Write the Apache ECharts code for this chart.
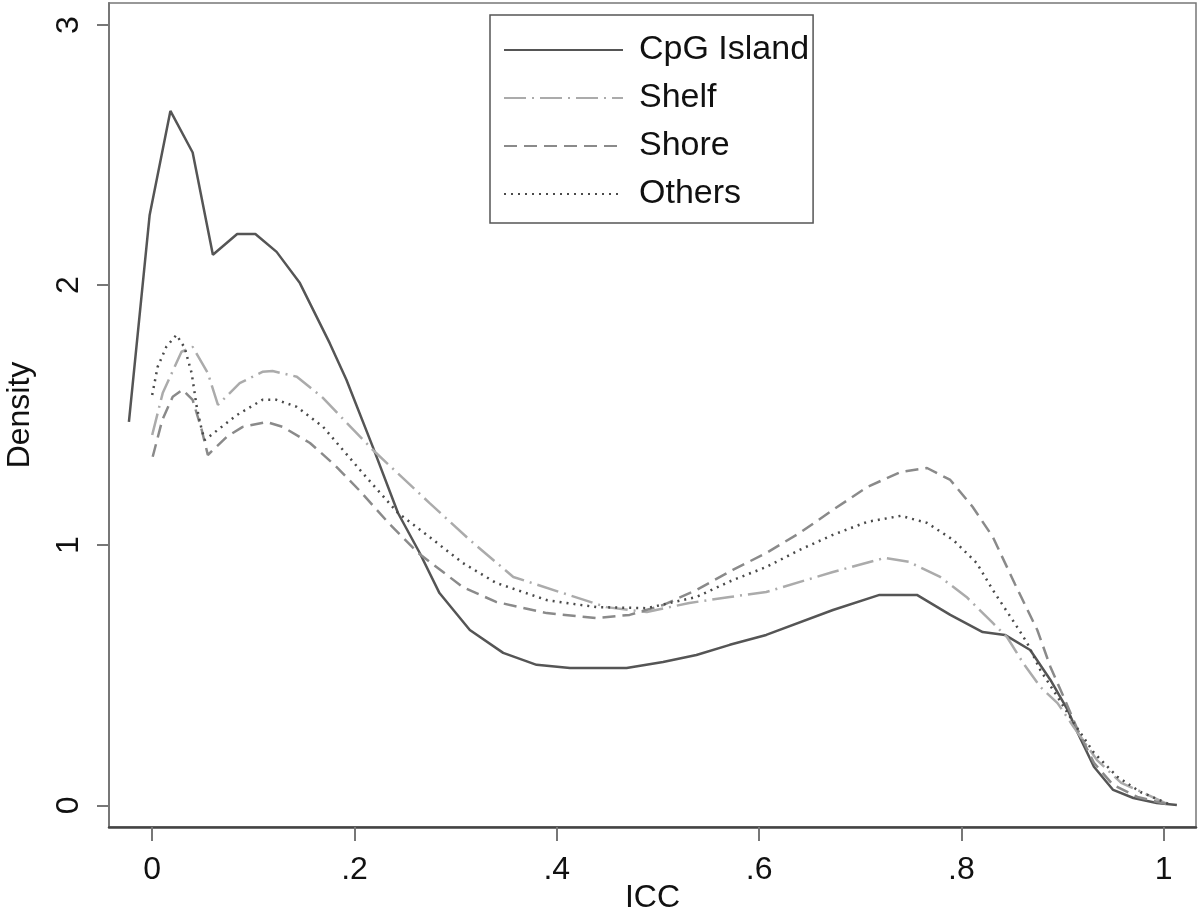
<!DOCTYPE html>
<html>
<head>
<meta charset="utf-8">
<script src="https://cdn.jsdelivr.net/npm/echarts@6/dist/echarts.min.js"></script>
<style>html,body{margin:0;padding:0;background:#fff}#c{width:1200px;height:915px}</style>
</head>
<body>
<div id="c"></div>
<script>
const seriesNames = ['CpG Island', 'Shelf', 'Shore', 'Others'];
const xTicks = [0, 0.2, 0.4, 0.6, 0.8, 1];
const xTickLabels = ['0', '.2', '.4', '.6', '.8', '1'];
const yTicks = [0, 1, 2, 3];
const yTickLabels = ['0', '1', '2', '3'];

const cpgX = [-0.023,-0.0025,0.018,0.040,0.060,0.084,0.102,0.123,0.146,0.1755,0.192,0.218,0.243,0.2645,0.284,0.314,0.347,0.380,0.413,0.469,0.505,0.538,0.571,0.607,0.673,0.719,0.756,0.789,0.821,0.843,0.868,0.888,0.905,0.915,0.931,0.950,0.970,0.993,1.013];
const cpgY = [1.474,2.27,2.67,2.51,2.117,2.197,2.197,2.128,2.008,1.777,1.636,1.379,1.124,0.97,0.816,0.674,0.586,0.54,0.528,0.528,0.551,0.578,0.617,0.655,0.751,0.809,0.809,0.732,0.666,0.655,0.597,0.482,0.367,0.278,0.148,0.059,0.028,0.009,0.001];

const shelfX = [0,0.0104,0.029,0.040,0.055,0.065,0.0865,0.109,0.119,0.143,0.169,0.190,0.218,0.274,0.314,0.357,0.406,0.449,0.489,0.531,0.571,0.607,0.673,0.724,0.748,0.779,0.805,0.831,0.845,0.861,0.878,0.895,0.911,0.934,0.958,0.980,1.006];
const shelfY = [1.424,1.585,1.744,1.763,1.662,1.54,1.623,1.667,1.67,1.648,1.566,1.48,1.367,1.163,1.02,0.878,0.816,0.762,0.743,0.778,0.801,0.82,0.897,0.951,0.936,0.878,0.801,0.701,0.647,0.547,0.455,0.393,0.301,0.174,0.086,0.048,0.001];

const shoreX = [0.0005,0.01,0.0203,0.030,0.040,0.049,0.055,0.0737,0.0895,0.113,0.129,0.156,0.18,0.205,0.235,0.263,0.307,0.340,0.390,0.439,0.472,0.505,0.538,0.574,0.607,0.64,0.673,0.707,0.74,0.766,0.789,0.811,0.831,0.853,0.875,0.888,0.901,0.915,0.931,0.950,0.974,1.008];
const shoreY = [1.34,1.482,1.571,1.598,1.559,1.443,1.347,1.417,1.455,1.474,1.455,1.393,1.31,1.21,1.08,0.97,0.839,0.782,0.739,0.72,0.732,0.77,0.828,0.905,0.97,1.047,1.136,1.224,1.282,1.297,1.251,1.148,1.032,0.85,0.674,0.532,0.417,0.29,0.163,0.078,0.032,0.0];

const othersX = [0,0.0054,0.014,0.024,0.032,0.039,0.044,0.049,0.052,0.067,0.0835,0.109,0.123,0.143,0.169,0.208,0.243,0.274,0.307,0.340,0.390,0.439,0.489,0.538,0.574,0.607,0.64,0.673,0.707,0.74,0.766,0.792,0.815,0.831,0.855,0.865,0.878,0.895,0.911,0.931,0.954,0.977,1.008];
const othersY = [1.578,1.686,1.763,1.809,1.76,1.662,1.532,1.443,1.405,1.45,1.5,1.559,1.559,1.532,1.455,1.278,1.124,1.032,0.932,0.855,0.789,0.762,0.758,0.801,0.866,0.916,0.982,1.04,1.09,1.113,1.086,1.02,0.932,0.828,0.686,0.624,0.52,0.417,0.317,0.202,0.11,0.051,0.0];

const zip = (xs, ys) => xs.map((x, i) => [x, ys[i]]);
const FONT = 'Liberation Sans, Arial, Helvetica, sans-serif';

const styles = [
  { color: '#555555', type: 'solid' },
  { color: '#ababab', type: [22, 6, 2, 6] },
  { color: '#8a8a8a', type: [13, 7] },
  { color: '#4a4a4a', type: [2, 5] }
];
const dataSets = [zip(cpgX, cpgY), zip(shelfX, shelfY), zip(shoreX, shoreY), zip(othersX, othersY)];

const chart = echarts.init(document.getElementById('c'), null, { renderer: 'canvas' });
chart.setOption({
  animation: false,
  backgroundColor: '#ffffff',
  grid: { left: 109, right: 4, top: 3, bottom: 88, show: true, borderColor: '#777', borderWidth: 1.5,
    backgroundColor: 'transparent', containLabel: false, outerBoundsMode: 'none' },
  legend: {
    data: seriesNames,
    orient: 'vertical',
    left: 490, top: 15,
    padding: [11, 4, 5, 13],
    itemWidth: 119, itemHeight: 14, itemGap: 0,
    borderColor: '#555', borderWidth: 1.5,
    backgroundColor: '#fff',
    itemStyle: { color: 'transparent', borderColor: 'transparent', borderWidth: 0, opacity: 0 },
    textStyle: { fontFamily: FONT, fontSize: 34, color: '#111', lineHeight: 48, padding: [0, 0, 0, 11] }
  },
  xAxis: {
    type: 'value', min: -0.0427, max: 1.0319,
    name: 'ICC', nameLocation: 'middle', nameGap: 55, nameMoveOverlap: false,
    nameTextStyle: { fontFamily: FONT, fontSize: 32, color: '#111' },
    axisLine: { show: true, onZero: false, lineStyle: { color: '#444', width: 2.5 } },
    axisTick: { show: true, length: 14, customValues: xTicks, lineStyle: { color: '#777', width: 2 } },
    axisLabel: { customValues: xTicks, margin: 27, fontFamily: FONT, fontSize: 32, color: '#111',
      formatter: v => { const i = xTicks.findIndex(t => Math.abs(t - v) < 1e-9); return i >= 0 ? xTickLabels[i] : ''; } },
    splitLine: { show: false }
  },
  yAxis: {
    type: 'value', min: -0.0835, max: 3.085,
    name: 'Density', nameLocation: 'middle', nameGap: 73, nameMoveOverlap: false,
    nameTextStyle: { fontFamily: FONT, fontSize: 32, color: '#111' },
    axisLine: { show: true, onZero: false, lineStyle: { color: '#777', width: 2 } },
    axisTick: { show: true, length: 12, customValues: yTicks, lineStyle: { color: '#777', width: 2 } },
    axisLabel: { customValues: yTicks, rotate: 90, margin: 24, fontFamily: FONT, fontSize: 32, color: '#111',
      formatter: v => { const i = yTicks.findIndex(t => Math.abs(t - v) < 1e-9); return i >= 0 ? yTickLabels[i] : ''; } },
    splitLine: { show: false }
  },
  series: seriesNames.map((n, i) => ({
    name: n, type: 'line', data: dataSets[i], showSymbol: false, symbol: 'none', smooth: false,
    color: styles[i].color,
    lineStyle: { color: styles[i].color, width: 2.5, type: styles[i].type }
  }))
});
</script>
</body>
</html>
